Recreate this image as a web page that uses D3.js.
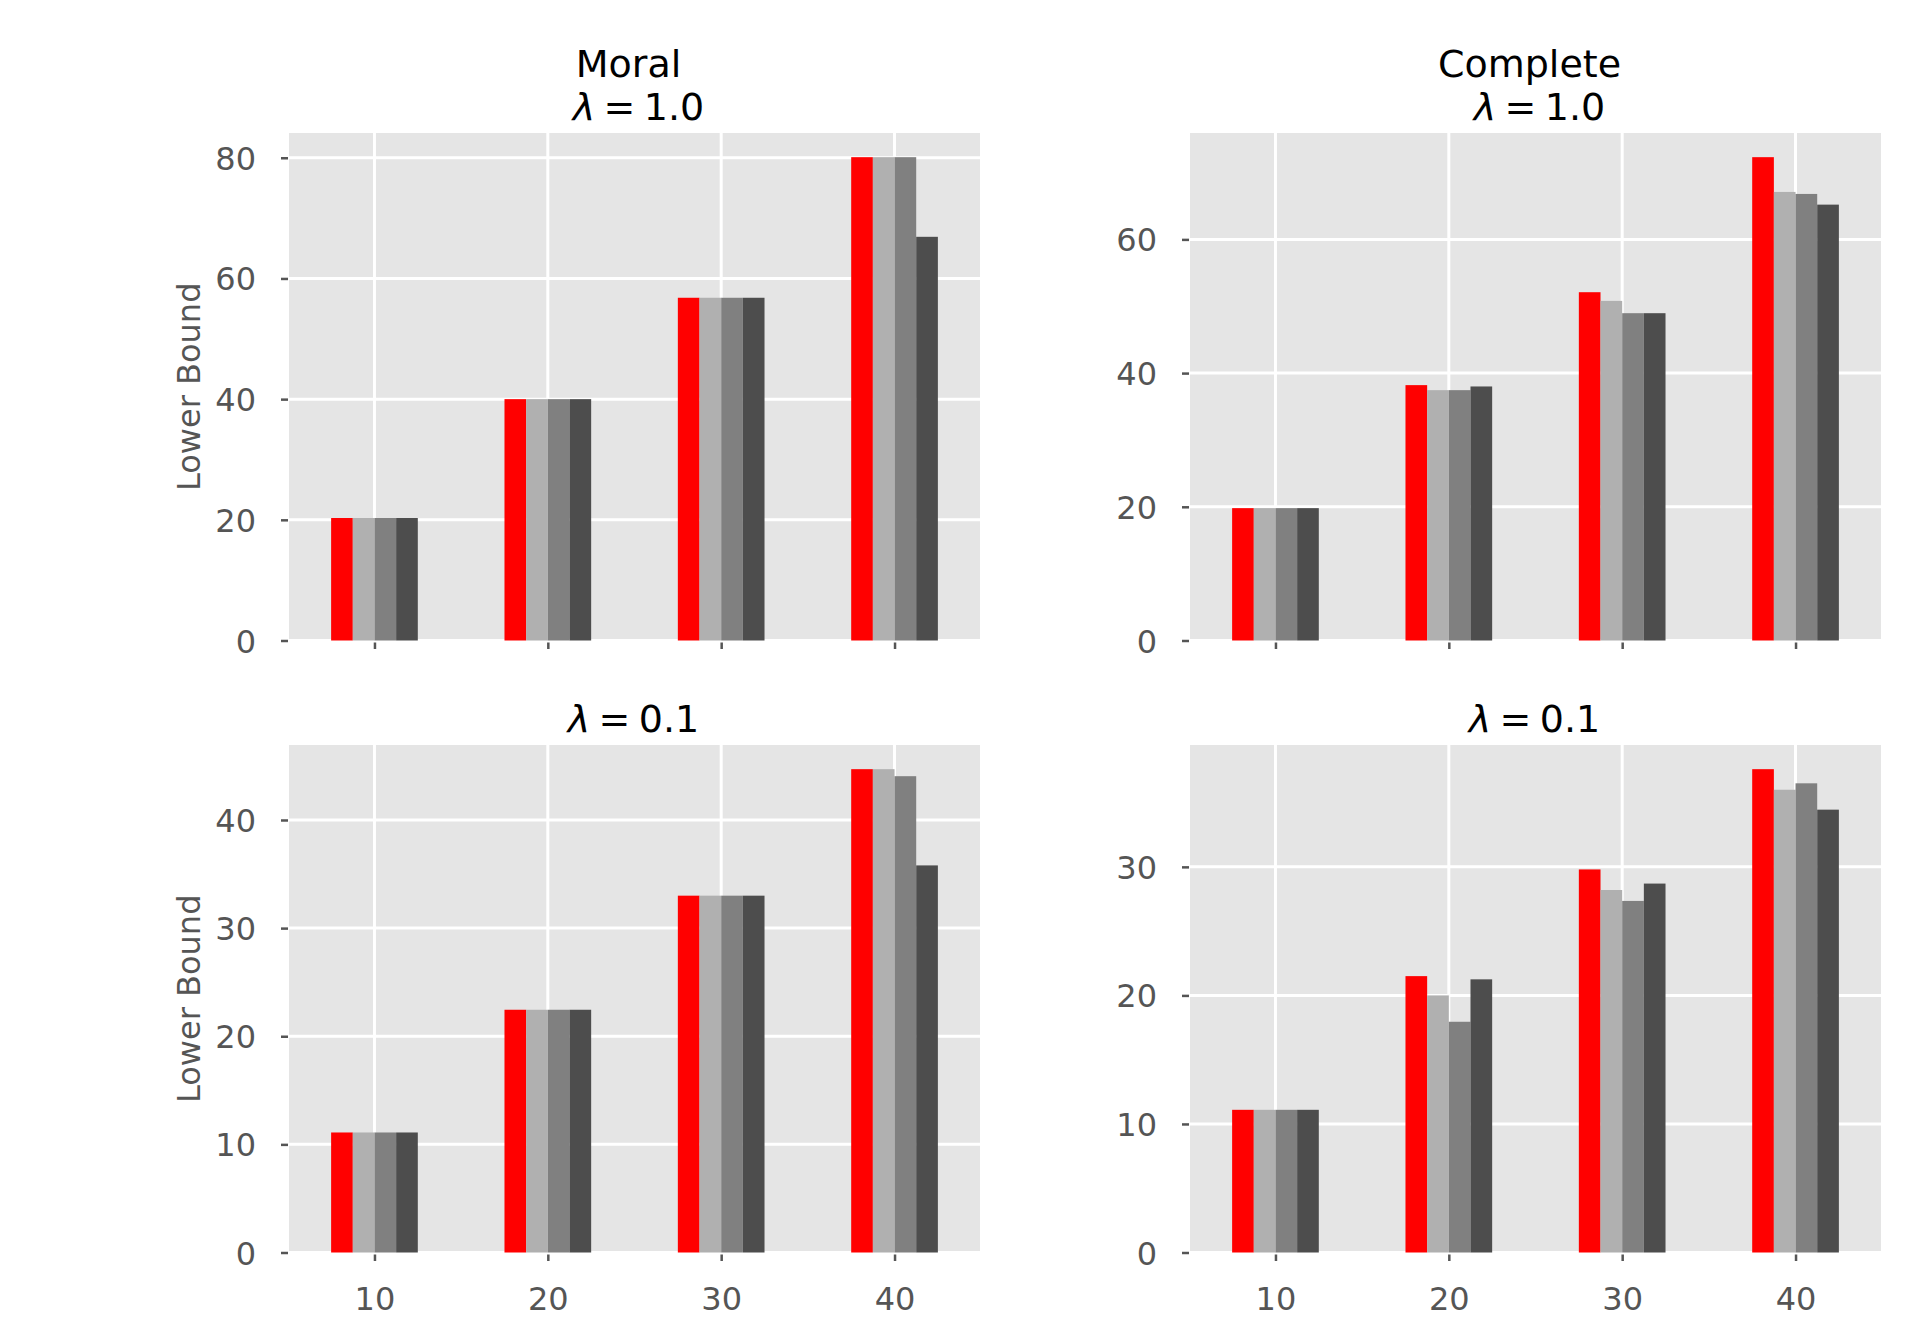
<!DOCTYPE html>
<html>
<head>
<meta charset="utf-8">
<script src="https://cdn.jsdelivr.net/npm/d3@7"></script>
<style>
  body { margin: 0; background: #fff; }
  svg { display: block; font-family: 'DejaVu Sans', sans-serif; }
</style>
</head>
<body>
<div id="chart"></div>
<script>
const width = 1920;
const height = 1320;

const categories = [10, 20, 30, 40];
const seriesColors = ['#ff0000', '#b0b0b0', '#808080', '#4d4d4d'];

// one array per series (red, light, mid, dark), values at 10,20,30,40
const moralL1 = [
    [20.3, 40.0, 56.8, 80.1],
    [20.3, 40.0, 56.8, 80.1],
    [20.3, 40.0, 56.8, 80.1],
    [20.3, 40.0, 56.8, 66.9]
];
const completeL1 = [
    [19.8, 38.2, 52.1, 72.3],
    [19.8, 37.45, 50.8, 67.1],
    [19.8, 37.45, 48.96, 66.8],
    [19.8, 38.0, 48.96, 65.2]
];
const moralL01 = [
    [11.1, 22.45, 33.0, 44.7],
    [11.1, 22.45, 33.0, 44.7],
    [11.1, 22.45, 33.0, 44.05],
    [11.1, 22.45, 33.0, 35.8]
];
const completeL01 = [
    [11.1, 21.5, 29.8, 37.6],
    [11.1, 20.0, 28.2, 36.0],
    [11.1, 17.95, 27.35, 36.5],
    [11.1, 21.25, 28.7, 34.45]
];

const yTicksMoralL1 = [0, 20, 40, 60, 80];
const yTicksCompleteL1 = [0, 20, 40, 60];
const yTicksMoralL01 = [0, 10, 20, 30, 40];
const yTicksCompleteL01 = [0, 10, 20, 30];

const barWidth = 1.25;

const panels = [
    { data: moralL1, ticks: yTicksMoralL1, title: ['Moral', '1.0'], left: 289, top: 133, ylabel: true, xlabels: false },
    { data: completeL1, ticks: yTicksCompleteL1, title: ['Complete', '1.0'], left: 1190, top: 133, ylabel: false, xlabels: false },
    { data: moralL01, ticks: yTicksMoralL01, title: [null, '0.1'], left: 289, top: 745, ylabel: true, xlabels: true },
    { data: completeL01, ticks: yTicksCompleteL01, title: [null, '0.1'], left: 1190, top: 745, ylabel: false, xlabels: true }
];
const pw = 691;
const ph = 507.5;

const svg = d3.select('#chart')
    .append('svg')
    .attr('width', width)
    .attr('height', height);

panels.forEach(p => {
    const x = d3.scaleLinear().domain([5.07, 44.93]).range([0, pw]);
    const maxV = d3.max(p.data, s => d3.max(s));
    const y = d3.scaleLinear().domain([0, maxV * 1.05]).range([ph, 0]);

    const g = svg.append('g').attr('transform', `translate(${p.left},${p.top})`);

    g.append('rect')
        .attr('width', pw)
        .attr('height', ph)
        .attr('fill', '#e5e5e5');

    // grid
    g.append('g').selectAll('line')
        .data(p.ticks)
        .join('line')
        .attr('x1', 0).attr('x2', pw)
        .attr('y1', d => y(d)).attr('y2', d => y(d))
        .attr('stroke', '#fff').attr('stroke-width', 3);
    g.append('g').selectAll('line')
        .data(categories)
        .join('line')
        .attr('y1', 0).attr('y2', ph)
        .attr('x1', d => x(d)).attr('x2', d => x(d))
        .attr('stroke', '#fff').attr('stroke-width', 3);

    // bars
    p.data.forEach((series, i) => {
        g.append('g')
            .selectAll('rect')
            .data(series)
            .join('rect')
            .attr('x', (d, j) => x(categories[j] + (i - 2) * barWidth))
            .attr('width', (d, j) => x(categories[j] + (i - 1) * barWidth) - x(categories[j] + (i - 2) * barWidth))
            .attr('y', d => y(d))
            .attr('height', d => y(0) - y(d))
            .attr('fill', seriesColors[i]);
    });

    // y axis
    const yAxis = g.append('g')
        .attr('transform', 'translate(-1,0)')
        .call(d3.axisLeft(y).tickValues(p.ticks).tickSize(7).tickPadding(25).tickFormat(d3.format('d')));
    yAxis.attr('font-family', null).attr('font-size', null);
    yAxis.select('.domain').remove();
    yAxis.selectAll('line').attr('stroke', '#555').attr('stroke-width', 2.5);
    yAxis.selectAll('text').attr('fill', '#555').style('font-size', '32px').attr('dy', '0.36em');

    // x axis
    const xAxis = g.append('g')
        .attr('transform', `translate(0,${ph + 2})`)
        .call(d3.axisBottom(x).tickValues(categories).tickSize(6.5).tickFormat(d3.format('d')));
    xAxis.attr('font-family', null).attr('font-size', null);
    xAxis.select('.domain').remove();
    xAxis.selectAll('line').attr('stroke', '#555').attr('stroke-width', 2.5);
    xAxis.selectAll('text')
        .attr('fill', '#555')
        .style('font-size', '32px')
        .attr('y', 55.5)
        .attr('dy', '0')
        .style('display', p.xlabels ? null : 'none');

    // titles
    const twoLine = !!p.title[0];
    if (twoLine) {
        g.append('text')
            .attr('x', pw / 2 - 6)
            .attr('y', -56)
            .attr('text-anchor', 'middle')
            .style('font-size', '38px')
            .attr('fill', '#000')
            .text(p.title[0]);
    }
    const t = g.append('text')
        .attr('x', pw / 2 + (twoLine ? 4 : -1))
        .attr('y', -13)
        .attr('text-anchor', 'middle')
        .style('font-size', '38px')
        .attr('fill', '#000');
    t.append('tspan').style('font-style', 'italic').text('λ');
    t.append('tspan').attr('dx', '0.22em').text('=');
    t.append('tspan').attr('dx', '0.22em').text(p.title[1]);

    if (p.ylabel) {
        g.append('text')
            .attr('transform', `translate(-89,${ph / 2}) rotate(-90)`)
            .attr('text-anchor', 'middle')
            .style('font-size', '32px')
            .attr('fill', '#555')
            .text('Lower Bound');
    }
});
</script>
</body>
</html>
